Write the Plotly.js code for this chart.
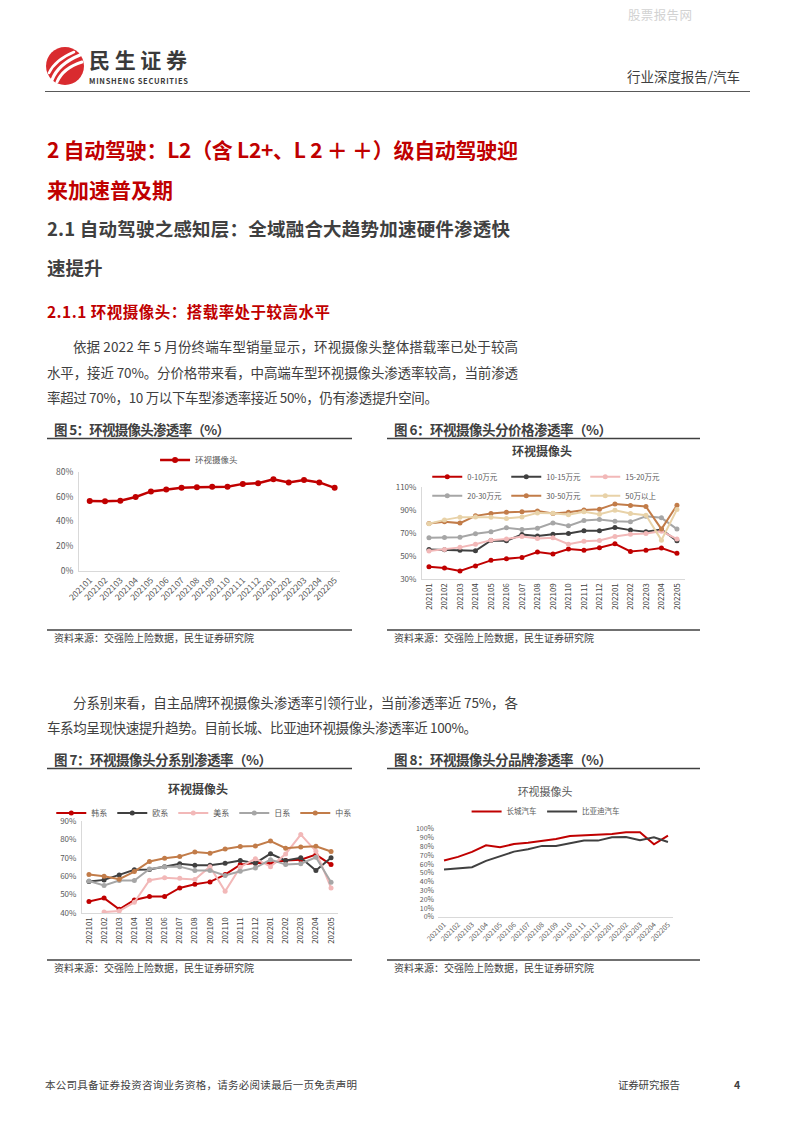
<!DOCTYPE html>
<html>
<head>
<meta charset="utf-8">
<script src="https://cdn.plot.ly/plotly-3.0.1.min.js"></script>
<style>
  body { margin: 0; background: #fff; }
  #page { position: relative; width: 794px; height: 1123px; overflow: hidden; background: #fff;
          font-family: "Noto Sans CJK SC", "Noto Sans", sans-serif; }
  .chart { position: absolute; }
  svg text { font-family: "Noto Sans CJK SC", "Noto Sans", sans-serif; }
</style>
</head>
<body>
<div id="page">
<svg width="794" height="1123" style="position:absolute;left:0;top:0">
  <!-- watermark -->
  <text x="628" y="20" font-size="12.5" fill="#d2d2d2" textLength="64">股票报告网</text>
  <!-- logo -->
  <circle cx="65" cy="66" r="19" fill="#D92B2F"/>
  <path d="M52 80 Q58 64 80 55" stroke="#fff" stroke-width="3.2" fill="none" stroke-linecap="round"/>
  <path d="M57 82 Q63 68 82 62" stroke="#fff" stroke-width="3" fill="none" stroke-linecap="round"/>
  <path d="M49 73 Q55 60 74 52" stroke="#fff" stroke-width="2.6" fill="none" stroke-linecap="round"/>
  <text x="89" y="68" font-size="21" font-weight="bold" fill="#3a3a3a" textLength="98">民生证券</text>
  <text x="89" y="84" font-size="7.5" font-weight="bold" fill="#3a3a3a" textLength="99" font-family="Liberation Sans">MINSHENG SECURITIES</text>
  <text x="627" y="82" font-size="13.5" fill="#404040" textLength="113">行业深度报告/汽车</text>
  <line x1="45" y1="91.5" x2="750" y2="91.5" stroke="#595959" stroke-width="1"/>

  <!-- headings -->
  <text x="47" y="158" font-size="21" font-weight="bold" fill="#C00000" textLength="471">2 自动驾驶：L2（含 L2+、L 2 ＋ ＋）级自动驾驶迎</text>
  <text x="47" y="198" font-size="21" font-weight="bold" fill="#C00000">来加速普及期</text>
  <text x="47" y="236" font-size="18.5" font-weight="bold" fill="#404040" textLength="463">2.1 自动驾驶之感知层：全域融合大趋势加速硬件渗透快</text>
  <text x="47" y="275" font-size="18.5" font-weight="bold" fill="#404040">速提升</text>
  <text x="47" y="318" font-size="15.5" font-weight="bold" fill="#C00000" textLength="283">2.1.1 环视摄像头：搭载率处于较高水平</text>

  <!-- paragraph 1 -->
  <text x="73" y="352" font-size="13.5" fill="#404040" textLength="445">依据 2022 年 5 月份终端车型销量显示，环视摄像头整体搭载率已处于较高</text>
  <text x="47" y="378" font-size="13.5" fill="#404040" textLength="471">水平，接近 70%。分价格带来看，中高端车型环视摄像头渗透率较高，当前渗透</text>
  <text x="47" y="403" font-size="13.5" fill="#404040" textLength="391">率超过 70%，10 万以下车型渗透率接近 50%，仍有渗透提升空间。</text>

  <!-- figure captions row 1 -->
  <text x="54" y="435" font-size="13.5" font-weight="bold" fill="#404040" textLength="176">图 5：环视摄像头渗透率（%）</text>
  <line x1="47" y1="438.5" x2="352" y2="438.5" stroke="#404040" stroke-width="1.6"/>
  <text x="394" y="435" font-size="13.5" font-weight="bold" fill="#404040" textLength="218">图 6：环视摄像头分价格渗透率（%）</text>
  <line x1="387" y1="438.5" x2="700" y2="438.5" stroke="#404040" stroke-width="1.6"/>
  <line x1="47" y1="630" x2="352" y2="630" stroke="#404040" stroke-width="1.6"/>
  <line x1="387" y1="630" x2="700" y2="630" stroke="#404040" stroke-width="1.6"/>
  <text x="54" y="642" font-size="10" fill="#404040" textLength="200">资料来源：交强险上险数据，民生证券研究院</text>
  <text x="394" y="642" font-size="10" fill="#404040" textLength="200">资料来源：交强险上险数据，民生证券研究院</text>

  <!-- paragraph 2 -->
  <text x="73" y="708" font-size="13.5" fill="#404040" textLength="445">分系别来看，自主品牌环视摄像头渗透率引领行业，当前渗透率近 75%，各</text>
  <text x="47" y="733" font-size="13.5" fill="#404040" textLength="430">车系均呈现快速提升趋势。目前长城、比亚迪环视摄像头渗透率近 100%。</text>

  <!-- figure captions row 2 -->
  <text x="54" y="765" font-size="13.5" font-weight="bold" fill="#404040" textLength="218">图 7：环视摄像头分系别渗透率（%）</text>
  <line x1="47" y1="768.5" x2="352" y2="768.5" stroke="#404040" stroke-width="1.6"/>
  <text x="394" y="765" font-size="13.5" font-weight="bold" fill="#404040" textLength="218">图 8：环视摄像头分品牌渗透率（%）</text>
  <line x1="387" y1="768.5" x2="700" y2="768.5" stroke="#404040" stroke-width="1.6"/>
  <line x1="47" y1="960" x2="352" y2="960" stroke="#404040" stroke-width="1.6"/>
  <line x1="387" y1="960" x2="700" y2="960" stroke="#404040" stroke-width="1.6"/>
  <text x="54" y="972" font-size="10" fill="#404040" textLength="200">资料来源：交强险上险数据，民生证券研究院</text>
  <text x="394" y="972" font-size="10" fill="#404040" textLength="200">资料来源：交强险上险数据，民生证券研究院</text>

  <!-- footer -->
  <text x="45" y="1089" font-size="10.5" fill="#404040" textLength="312">本公司具备证券投资咨询业务资格，请务必阅读最后一页免责声明</text>
  <text x="618" y="1089" font-size="10.5" fill="#404040" textLength="62">证券研究报告</text>
  <text x="734" y="1089" font-size="10.5" font-weight="bold" fill="#404040">4</text>
</svg>

<div id="fig5" class="chart" style="left:47px;top:440px;width:305px;height:188px;"></div>
<div id="fig6" class="chart" style="left:392px;top:440px;width:310px;height:188px;"></div>
<div id="fig7" class="chart" style="left:17px;top:770px;width:345px;height:188px;"></div>
<div id="fig8" class="chart" style="left:392px;top:770px;width:310px;height:188px;"></div>
</div>

<script>
// ---------- data ----------
const months = ['202101','202102','202103','202104','202105','202106','202107','202108','202109',
                '202110','202111','202112','202201','202202','202203','202204','202205'];

// Fig 5
const fig5Name = '环视摄像头';
const fig5Rate = [56.5, 56.3, 56.8, 59.8, 64.3, 65.9, 67.2, 67.7, 68.1, 68.0, 70.4, 70.9, 74.2, 71.6, 73.5, 71.6, 67.2];

// Fig 6 (price bands)
const fig6Title = '环视摄像头';
const priceNames = ['0-10万元', '10-15万元', '15-20万元', '20-30万元', '30-50万元', '50万以上'];
const price0_10  = [40.7, 39.5, 36.9, 41.3, 46.2, 47.6, 48.8, 53.4, 51.7, 56.0, 54.9, 57.2, 60.6, 54.0, 55.1, 56.9, 52.3];
const price10_15 = [55.7, 55.4, 54.9, 54.6, 63.5, 63.2, 68.7, 67.3, 69.0, 69.6, 71.9, 71.9, 74.8, 72.5, 71.0, 73.0, 63.2];
const price15_20 = [54.3, 55.7, 57.5, 60.3, 63.8, 64.7, 67.0, 65.3, 65.8, 60.3, 62.9, 63.5, 67.0, 69.0, 69.6, 71.6, 64.7];
const price20_30 = [65.8, 66.1, 66.4, 69.3, 71.0, 74.5, 73.1, 74.2, 78.8, 76.2, 80.9, 81.7, 80.3, 79.7, 84.6, 83.2, 73.4];
const price30_50 = [78.3, 79.7, 78.6, 84.9, 86.9, 88.1, 88.4, 89.2, 86.9, 88.1, 90.1, 90.7, 95.3, 93.9, 93.0, 73.4, 94.2];
const price50up  = [78.0, 81.4, 83.8, 84.0, 83.8, 82.6, 84.0, 87.5, 87.2, 85.8, 88.4, 86.4, 89.8, 86.9, 85.5, 63.8, 90.4];

// Fig 7 (origin of brand)
const fig7Title = '环视摄像头';
const seriesNames = ['韩系', '欧系', '美系', '日系', '中系'];
const korean   = [46.3, 48.1, 42.0, 47.1, 48.9, 48.9, 53.6, 55.6, 56.9, 60.9, 66.3, 67.2, 67.2, 68.5, 69.0, 71.7, 66.3];
const european = [57.1, 58.0, 60.7, 63.5, 63.6, 65.1, 66.7, 66.0, 66.0, 67.1, 68.5, 67.1, 72.2, 68.5, 70.0, 63.1, 70.0];
const american = [null, 40.5, 41.1, 45.8, 57.8, 59.2, 58.9, 58.2, 65.2, 51.8, 64.9, 69.5, 65.2, 72.1, 82.6, 73.6, 53.6];
const japanese = [57.4, 55.0, 57.6, 57.6, 63.9, 65.1, 65.2, 63.1, 63.1, 60.4, 62.7, 64.5, 69.0, 66.3, 66.8, 70.3, 56.7];
const chinese  = [60.9, 60.0, 58.4, 62.5, 68.0, 69.8, 70.7, 73.2, 72.5, 74.8, 76.1, 76.4, 79.1, 75.2, 75.9, 76.3, 73.4];

// Fig 8 (brands)
const fig8Title = '环视摄像头';
const brandNames = ['长城汽车', '比亚迪汽车'];
const greatWall = [64.2, 68.3, 74.0, 81.5, 79.2, 83.0, 84.5, 86.8, 88.7, 92.0, 92.8, 93.6, 94.3, 96.2, 96.2, 82.6, 92.5];
const byd       = [54.0, 55.0, 56.6, 63.8, 69.0, 74.3, 77.0, 80.8, 80.8, 83.4, 86.8, 86.8, 90.6, 90.9, 87.2, 90.6, 85.3];

// ---------- helpers ----------
const FONT = '"Noto Sans CJK SC", "Noto Sans", sans-serif';
const cfg = {staticPlot: true, displayModeBar: false, responsive: false};

function lineTrace(y, name, color, width, marker) {
  const t = {x: months, y: y, name: name, type: 'scatter',
             mode: marker ? 'lines+markers' : 'lines',
             line: {color: color, width: width}, connectgaps: false};
  if (marker) t.marker = {color: color, size: marker, symbol: 'circle'};
  return t;
}
function baseAxis(extra) {
  return Object.assign({showgrid: false, zeroline: false, showline: true, linecolor: '#D9D9D9',
                        linewidth: 1, ticks: '', fixedrange: true}, extra);
}

// ---------- Fig 5 ----------
Plotly.newPlot('fig5', [lineTrace(fig5Rate, fig5Name, '#C00000', 2.5, 6)], {
  width: 305, height: 188,
  margin: {l: 32, r: 12, t: 32, b: 57, autoexpand: false},
  paper_bgcolor: 'rgba(0,0,0,0)', plot_bgcolor: 'rgba(0,0,0,0)',
  font: {family: FONT, color: '#595959', size: 8},
  showlegend: true,
  legend: {orientation: 'h', x: 0.46, xanchor: 'center', y: 1.12, yanchor: 'middle',
           font: {size: 8.5, color: '#595959'}, bgcolor: 'rgba(0,0,0,0)'},
  xaxis: baseAxis({type: 'category', range: [-0.7, 16.35], tickangle: -45,
                   tickfont: {size: 8.5, color: '#595959'}}),
  yaxis: baseAxis({range: [0, 80], dtick: 20, ticksuffix: '%', ticklabelstandoff: 3,
                   tickfont: {size: 8.5, color: '#595959'}})
}, cfg);

// ---------- Fig 6 ----------
const fig6Colors = ['#C00000', '#404040', '#F2B8B8', '#A6A6A6', '#C27C49', '#E8D2A8'];
const fig6Data = [price0_10, price10_15, price15_20, price20_30, price30_50, price50up];
Plotly.newPlot('fig6', fig6Data.map((d, i) => lineTrace(d, priceNames[i], fig6Colors[i], 2, 5)), {
  width: 310, height: 188,
  margin: {l: 30, r: 17, t: 47, b: 49, autoexpand: false},
  paper_bgcolor: 'rgba(0,0,0,0)', plot_bgcolor: 'rgba(0,0,0,0)',
  font: {family: FONT, color: '#595959', size: 8},
  title: {text: '<b>' + fig6Title + '</b>', x: 0.484, xanchor: 'center', y: 0.936, yanchor: 'middle',
          font: {size: 12, color: '#404040', family: FONT}},
  showlegend: true,
  legend: {orientation: 'h', x: 0.02, xanchor: 'left', y: 1.27, yanchor: 'top', entrywidth: 34,
           font: {size: 7.5, color: '#595959'}, bgcolor: 'rgba(0,0,0,0)', tracegroupgap: 0},
  xaxis: baseAxis({type: 'category', range: [-0.45, 16.52], tickangle: -90,
                   tickfont: {size: 8, color: '#404040'}}),
  yaxis: baseAxis({range: [30, 110], tick0: 30, dtick: 20, ticksuffix: '%', ticklabelstandoff: 3,
                   tickfont: {size: 8, color: '#595959'}})
}, cfg);

// ---------- Fig 7 ----------
const fig7Colors = ['#C00000', '#404040', '#F2B8B8', '#A6A6A6', '#C27C49'];
const fig7Data = [korean, european, american, japanese, chinese];
Plotly.newPlot('fig7', fig7Data.map((d, i) => lineTrace(d, seriesNames[i], fig7Colors[i], 2, 5)), {
  width: 345, height: 188,
  margin: {l: 65, r: 24, t: 51, b: 45, autoexpand: false},
  paper_bgcolor: 'rgba(0,0,0,0)', plot_bgcolor: 'rgba(0,0,0,0)',
  font: {family: FONT, color: '#595959', size: 8},
  title: {text: '<b>' + fig7Title + '</b>', x: 0.525, xanchor: 'center', y: 0.894, yanchor: 'middle',
          font: {size: 12, color: '#404040', family: FONT}},
  showlegend: true,
  legend: {orientation: 'h', x: -0.12, xanchor: 'left', y: 1.087, yanchor: 'middle',
           font: {size: 8, color: '#595959'}, bgcolor: 'rgba(0,0,0,0)'},
  xaxis: baseAxis({type: 'category', range: [-0.46, 16.46], tickangle: -90,
                   tickfont: {size: 8, color: '#404040'}}),
  yaxis: baseAxis({range: [40, 90], dtick: 10, ticksuffix: '%', ticklabelstandoff: 3,
                   tickfont: {size: 8, color: '#595959'}})
}, cfg);

// ---------- Fig 8 ----------
Plotly.newPlot('fig8', [
  lineTrace(greatWall, brandNames[0], '#C00000', 2, 0),
  lineTrace(byd, brandNames[1], '#404040', 2, 0)
], {
  width: 310, height: 188,
  margin: {l: 46, r: 29, t: 59, b: 41, autoexpand: false},
  paper_bgcolor: 'rgba(0,0,0,0)', plot_bgcolor: 'rgba(0,0,0,0)',
  font: {family: FONT, color: '#595959', size: 7},
  title: {text: fig8Title, x: 0.494, xanchor: 'center', y: 0.883, yanchor: 'middle',
          font: {size: 11, color: '#595959', family: FONT}},
  showlegend: true,
  legend: {orientation: 'h', x: 0.46, xanchor: 'center', y: 1.2, yanchor: 'middle',
           font: {size: 7.5, color: '#595959'}, bgcolor: 'rgba(0,0,0,0)'},
  xaxis: baseAxis({type: 'category', range: [-0.43, 16.36], tickangle: -45,
                   tickfont: {size: 7, color: '#595959'}}),
  yaxis: baseAxis({range: [0, 100], dtick: 10, ticksuffix: '%', ticklabelstandoff: 3, showline: false,
                   tickfont: {size: 7, color: '#595959'}})
}, cfg);
</script>
</body>
</html>
